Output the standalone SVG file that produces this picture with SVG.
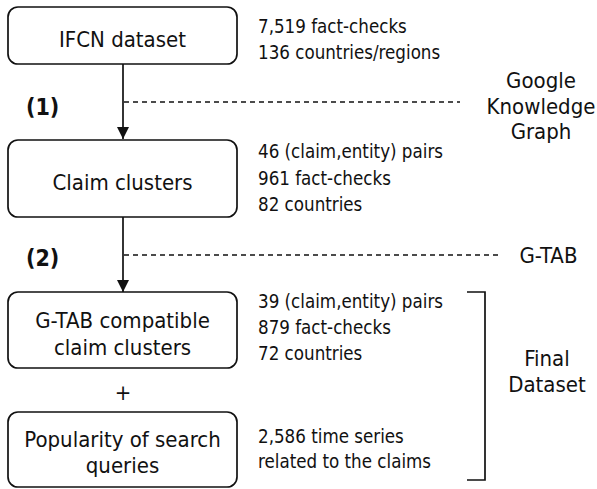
<svg xmlns="http://www.w3.org/2000/svg" width="597" height="489" viewBox="0 0 597 489">
<defs>
<style>
text{font-family:"DejaVu Sans","Verdana",sans-serif;font-stretch:condensed;fill:#111}
.box{fill:#fff;stroke:#111;stroke-width:1.7}
.bt{font-size:22px;text-anchor:middle}
.st{font-size:18.6px}
.lt{font-size:22px;text-anchor:middle}
.num{font-size:23px;font-weight:bold}
.line{stroke:#111;stroke-width:1.7;fill:none}
.dash{stroke:#111;stroke-width:1.5;stroke-dasharray:5,4;fill:none}
</style>
<marker id="ah" viewBox="0 0 12 12" refX="12" refY="6" markerWidth="12" markerHeight="12" markerUnits="userSpaceOnUse" orient="auto">
<path d="M0,0 L12,6 L0,12 z" fill="#111"/>
</marker>
</defs>
<g id="connectors">
<line class="line" x1="123" y1="64" x2="123" y2="139" marker-end="url(#ah)"/>
<line class="line" x1="123" y1="217" x2="123" y2="292" marker-end="url(#ah)"/>
<line class="dash" x1="124" y1="102" x2="460" y2="102"/>
<line class="dash" x1="124" y1="255" x2="502" y2="255"/>
<path class="line" d="M467,292 H485 V480 H467"/>
</g>
<g id="ifcn">
<rect class="box" x="8" y="7" width="229" height="57" rx="10"/>
<text class="bt" x="122.5" y="46.5">IFCN dataset</text>
</g>
<g id="claim-clusters">
<rect class="box" x="8" y="140" width="229" height="77" rx="10"/>
<text class="bt" x="122.5" y="190">Claim clusters</text>
</g>
<g id="gtab-clusters">
<rect class="box" x="8" y="292" width="229" height="76" rx="10"/>
<text class="bt" x="122.5" y="328">G-TAB compatible</text>
<text class="bt" x="122.5" y="355">claim clusters</text>
</g>
<g id="popularity">
<rect class="box" x="8" y="412" width="229" height="75" rx="10"/>
<text class="bt" x="122.5" y="447">Popularity of search</text>
<text class="bt" x="122.5" y="473">queries</text>
</g>
<g id="plus"><text class="bt" x="123" y="400">+</text></g>
<g id="step-labels">
<text class="num" x="26" y="115">(1)</text>
<text class="num" x="26" y="266">(2)</text>
</g>
<g id="stats">
<text class="st" x="258" y="33">7,519 fact-checks</text>
<text class="st" x="258" y="59">136 countries/regions</text>
<text class="st" x="258" y="158">46 (claim,entity) pairs</text>
<text class="st" x="258" y="185">961 fact-checks</text>
<text class="st" x="258" y="211">82 countries</text>
<text class="st" x="258" y="308">39 (claim,entity) pairs</text>
<text class="st" x="258" y="334">879 fact-checks</text>
<text class="st" x="258" y="360">72 countries</text>
<text class="st" x="258" y="443">2,586 time series</text>
<text class="st" x="258" y="468">related to the claims</text>
</g>
<g id="sources">
<text class="lt" x="541" y="88">Google</text>
<text class="lt" x="541" y="114">Knowledge</text>
<text class="lt" x="541" y="139">Graph</text>
<text class="lt" x="548.5" y="263">G-TAB</text>
</g>
<g id="final">
<text class="lt" x="547" y="366">Final</text>
<text class="lt" x="547" y="392">Dataset</text>
</g>
</svg>
